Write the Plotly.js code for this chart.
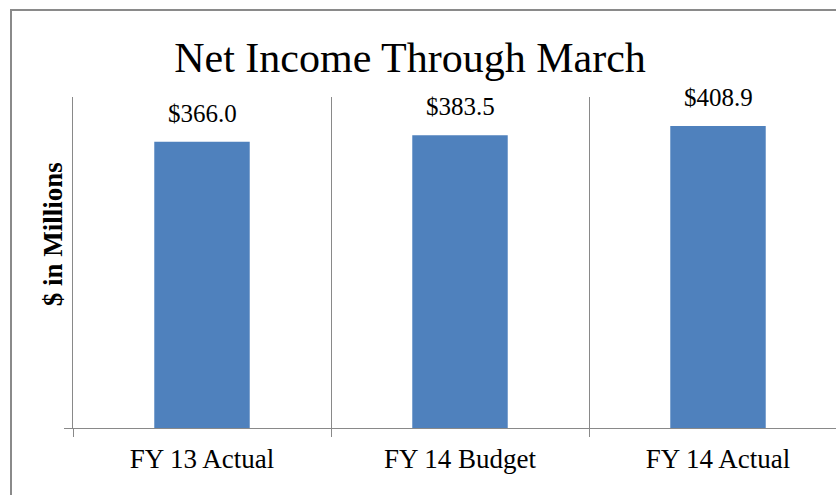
<!DOCTYPE html>
<html>
<head>
<meta charset="utf-8">
<script src="https://cdn.plot.ly/plotly-3.0.1.min.js"></script>
<style>
  html, body { margin: 0; padding: 0; width: 836px; height: 495px; overflow: hidden; background: #fff; }
  #frame { position: absolute; left: 10px; top: 9px; width: 900px; height: 600px; border: 2px solid #8a8a8a; box-sizing: border-box; }
  #chart { position: absolute; left: 0; top: 0; width: 880px; height: 520px; }
</style>
</head>
<body>
<div id="frame"></div>
<div id="chart"></div>
<script>
const categories = ['FY 13 Actual', 'FY 14 Budget', 'FY 14 Actual'];
const netIncome = [366.0, 383.5, 408.9];
const valueLabels = netIncome.map(v => '$' + v.toFixed(1));
const chartTitle = 'Net Income Through March';
const yTitle = '$ in Millions';

const serif = 'Liberation Serif';
const gray = '#898989';

const trace = {
  type: 'bar',
  x: categories,
  y: netIncome,
  width: 0.37,
  marker: { color: '#4F81BD' },
  hoverinfo: 'none'
};

const annotations = categories.map((c, i) => ({
  x: c, y: Math.log10(netIncome[i]), xref: 'x', yref: 'y',
  text: valueLabels[i], showarrow: false,
  yanchor: 'bottom', yshift: 13,
  font: { family: serif, size: 25, color: '#000' }
}));
annotations.push({
  xref: 'paper', yref: 'paper', x: -0.026, y: 0.585,
  text: '<b>' + yTitle + '</b>', showarrow: false, textangle: -90,
  xanchor: 'center', yanchor: 'middle',
  font: { family: serif, size: 27, color: '#000' }
});

const layout = {
  width: 880, height: 520,
  margin: { l: 73, r: 33, t: 97, b: 92 },
  paper_bgcolor: 'rgba(0,0,0,0)',
  plot_bgcolor: 'rgba(0,0,0,0)',
  font: { family: serif, color: '#000' },
  showlegend: false,
  title: {
    text: chartTitle,
    font: { family: serif, size: 42, color: '#000' },
    xref: 'paper', x: 0.4354, xanchor: 'center',
    yref: 'container', y: 1 - 57 / 520, yanchor: 'middle'
  },
  xaxis: {
    type: 'category', range: [-0.5, 2.5],
    tickson: 'boundaries', ticks: 'outside', ticklen: 8, tickwidth: 1, tickcolor: gray,
    showgrid: true, gridcolor: gray, gridwidth: 1,
    showline: true, linecolor: gray, linewidth: 1,
    zeroline: false,
    ticklabelstandoff: 7,
    tickfont: { family: serif, size: 27, color: '#000' },
    fixedrange: true
  },
  yaxis: {
    type: 'log', range: [Math.log10(50), Math.log10(500)],
    showgrid: false, zeroline: false,
    showline: true, linecolor: gray, linewidth: 1,
    tickmode: 'array', tickvals: [50], ticks: 'outside', ticklen: 8, tickwidth: 1, tickcolor: gray,
    showticklabels: false,
    fixedrange: true
  },
  annotations: annotations
};

Plotly.newPlot('chart', [trace], layout, { displayModeBar: false, staticPlot: true });
</script>
</body>
</html>
